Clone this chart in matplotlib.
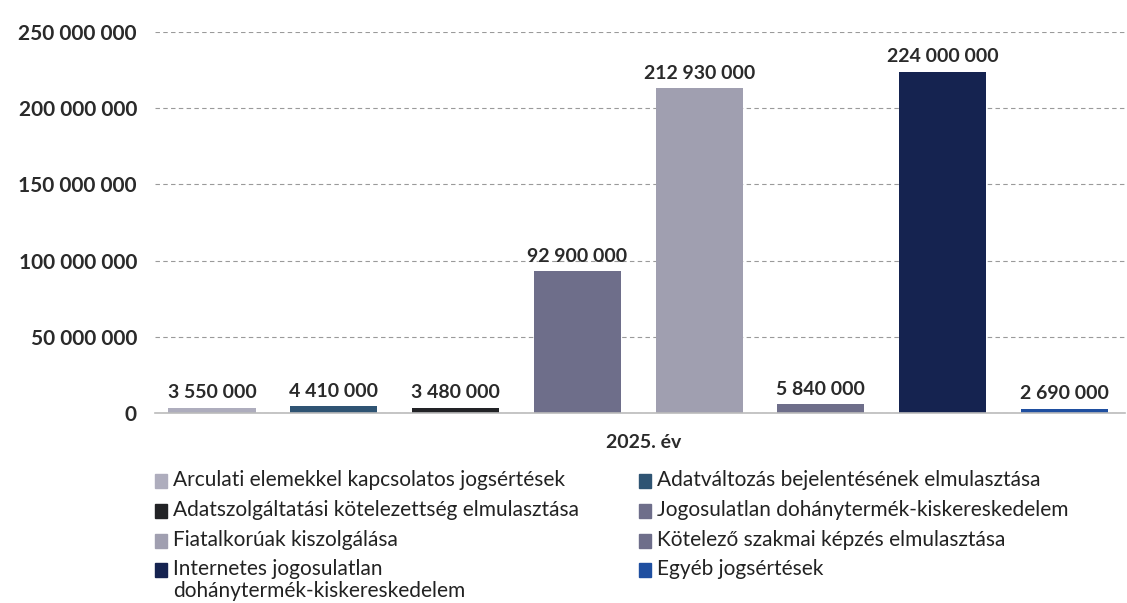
import matplotlib
matplotlib.use("Agg")
import matplotlib.pyplot as plt
from matplotlib.patches import Rectangle

# data
categories = [
    "Arculati elemekkel kapcsolatos jogsértések",
    "Adatváltozás bejelentésének elmulasztása",
    "Adatszolgáltatási kötelezettség elmulasztása",
    "Jogosulatlan dohánytermék-kiskereskedelem",
    "Fiatalkorúak kiszolgálása",
    "Kötelező szakmai képzés elmulasztása",
    "Internetes jogosulatlan\ndohánytermék-kiskereskedelem",
    "Egyéb jogsértések",
]
values = [3550000, 4410000, 3480000, 92900000, 212930000, 5840000, 224000000, 2690000]
colors = ["#aeadbd", "#2f5473", "#222326", "#6e6e8a", "#a09fb0", "#6e6e8a", "#152350", "#1f4fa0"]
yticks = [0, 50000000, 100000000, 150000000, 200000000, 250000000]
xlabel = "2025. év"

def fmt(v):
    return f"{v:,}".replace(",", " ")

plt.rcParams["font.family"] = ["Lato", "DejaVu Sans"]

fig = plt.figure(figsize=(11.27, 6.03), dpi=100)
ax = fig.add_axes([155 / 1127, 1 - 413 / 603, (1125 - 155) / 1127, (413 - 32) / 603])

x = list(range(len(values)))
ax.bar(x, values, width=0.715, color=colors, zorder=3)
for xi, v in zip(x, values):
    ax.text(xi, v + 4200000, fmt(v), ha="center", va="bottom", fontsize=14,
            fontweight="bold", color="#2a2a2a", zorder=4)

ax.set_xlim(-0.468, 7.497)
ax.set_ylim(0, 250000000)
ax.set_yticks(yticks)
ax.set_yticklabels([fmt(t) for t in yticks], fontsize=15, fontweight="bold", color="#2a2a2a")
ax.set_xticks([])
ax.tick_params(axis="y", length=0, pad=13)
ax.yaxis.grid(True, linestyle=(0, (4, 3)), color="#9a9a9a", linewidth=0.8, zorder=0)
for s in ["top", "right", "left"]:
    ax.spines[s].set_visible(False)
ax.spines["bottom"].set_color("#bbbbbb")
ax.spines["bottom"].set_linewidth(1.2)
ax.spines["bottom"].set_zorder(5)

fig.text(644 / 1127, 1 - 442 / 603, xlabel, ha="center", va="center",
         fontsize=14, fontweight="bold", color="#2a2a2a")

# legend drawn by hand, two columns, row-wise
col_x = [155, 639]
row_y = [481, 511, 541, 570]
for i, (name, c) in enumerate(zip(categories, colors)):
    cx = col_x[i % 2]
    cy = row_y[i // 2]
    fig.patches.append(Rectangle((cx / 1127, 1 - (cy + 7) / 603), 12 / 1127, 14 / 603,
                                 transform=fig.transFigure, color=c))
    fig.text((cx + 18) / 1127, 1 - (cy - 11) / 603, name, ha="left", va="top",
             fontsize=15, color="#222222", linespacing=1.12,
             family=["Lato", "DejaVu Sans"])

fig.savefig("out.png", dpi=100)
